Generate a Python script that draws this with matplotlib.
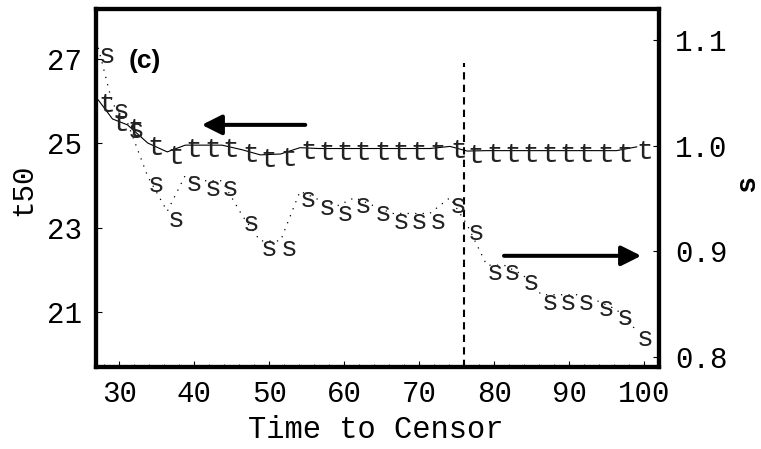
import matplotlib
matplotlib.use('Agg')
import matplotlib.pyplot as plt
import matplotlib.transforms as mtransforms
from matplotlib.ticker import MultipleLocator

# values
time_to_censor = [27.2, 29.1, 31.1, 33.8, 36.4, 38.8, 41.4, 43.7, 46.4, 48.8,
                  51.5, 54.1, 56.6, 59.0, 61.4, 64.0, 66.4, 68.8, 71.4, 74.1,
                  76.4, 79.0, 81.3, 83.8, 86.3, 88.7, 91.1, 93.8, 96.3, 99.0]
t50 = [26.03, 25.58, 25.44, 25.01, 24.80, 24.96, 24.96, 24.96, 24.85, 24.73,
       24.75, 24.90, 24.88, 24.88, 24.88, 24.88, 24.88, 24.88, 24.88, 24.93,
       24.82, 24.83, 24.83, 24.83, 24.83, 24.83, 24.83, 24.83, 24.83, 24.92]
s_vals = [1.093, 1.040, 1.022, 0.971, 0.938, 0.972, 0.967, 0.967, 0.934, 0.910,
          0.910, 0.957, 0.949, 0.943, 0.951, 0.943, 0.936, 0.936, 0.936, 0.951,
          0.925, 0.887, 0.887, 0.878, 0.859, 0.859, 0.859, 0.853, 0.845, 0.825]
censor_line = 76.0
x_ticks = [30, 40, 50, 60, 70, 80, 90, 100]
t_ticks = [21, 23, 25, 27]
s_ticks = [0.8, 0.9, 1.0, 1.1]

mono = 'Liberation Mono'
fs = 21       # tick and axis labels
fs_mark = 20  # letter markers

fig = plt.figure(figsize=(7.61, 4.49), dpi=100)
ax = fig.add_axes([96 / 761, 1 - 366.5 / 449, (658.5 - 96) / 761, (366.5 - 8.7) / 449])
ax2 = ax.twinx()

ax.set_xlim(26.9, 101.9)
ax.set_ylim(19.72, 28.19)
ax2.set_ylim(0.791, 1.130)

# lines
ax.plot(time_to_censor, t50, color='black', lw=0.8)
ax2.plot(time_to_censor, s_vals, color='black', lw=0.9, linestyle=(0, (1, 5)))

# letter markers, anchored near their top-left
off1 = mtransforms.offset_copy(ax.transData, fig=fig, x=0, y=-8.5, units='points')
off2 = mtransforms.offset_copy(ax2.transData, fig=fig, x=0, y=-11, units='points')
for x, y in zip(time_to_censor, t50):
    ax.text(x, y, 't', transform=off1, ha='left', va='baseline',
            family=mono, fontsize=fs_mark, color='#222222')
for x, y in zip(time_to_censor, s_vals):
    ax2.text(x, y, 's', transform=off2, ha='left', va='baseline',
             family=mono, fontsize=fs_mark, color='#222222')

# censoring line
ax.plot([censor_line, censor_line], [19.72, 26.9], color='black', lw=1.5,
        linestyle=(0, (3.5, 2.5)))

# arrows
arrow = dict(arrowstyle='-|>,head_length=0.6,head_width=0.3',
             mutation_scale=20, lw=2.9, color='black', shrinkA=0, shrinkB=0)
ax.annotate('', xy=(41.0, 25.44), xytext=(54.8, 25.44), arrowprops=arrow)
ax.annotate('', xy=(99.6, 22.34), xytext=(81.3, 22.34), arrowprops=arrow)

ax.text(31.3, 26.95, '(c)', ha='left', va='center', fontsize=19,
        fontweight='bold', family='Liberation Sans')

# axes styling
for a in (ax, ax2):
    for sp in a.spines.values():
        sp.set_linewidth(3)
ax.set_xticks(x_ticks)
ax.xaxis.set_minor_locator(MultipleLocator(2))
ax.set_yticks(t_ticks)
ax2.set_yticks(s_ticks)
ax.set_yticklabels([str(v) for v in t_ticks])
ax2.set_yticklabels(['%.1f' % v for v in s_ticks])
ax.tick_params(axis='y', which='major', direction='in', length=4, width=0.8, pad=10)
ax.tick_params(axis='x', which='major', direction='in', length=4, width=0.8, pad=10)
ax.tick_params(axis='x', which='minor', direction='in', length=2, width=0.6)
ax2.tick_params(axis='y', direction='in', length=4, width=0.8, pad=12)
for lab in ax.get_xticklabels() + ax.get_yticklabels() + ax2.get_yticklabels():
    lab.set_family(mono)
    lab.set_fontsize(fs)

fig.text(0.030, 1 - 190 / 449, 't50', rotation=90, ha='center', va='center',
         family=mono, fontsize=fs)
fig.text(376 / 761, 1 - 430 / 449, 'Time to Censor', ha='center', va='center',
         family=mono, fontsize=22)
fig.text(748 / 761, 1 - 184 / 449, 's', rotation=90, ha='center', va='center',
         family='Liberation Sans', fontweight='bold', fontsize=20)

fig.savefig('out.png', dpi=100)
